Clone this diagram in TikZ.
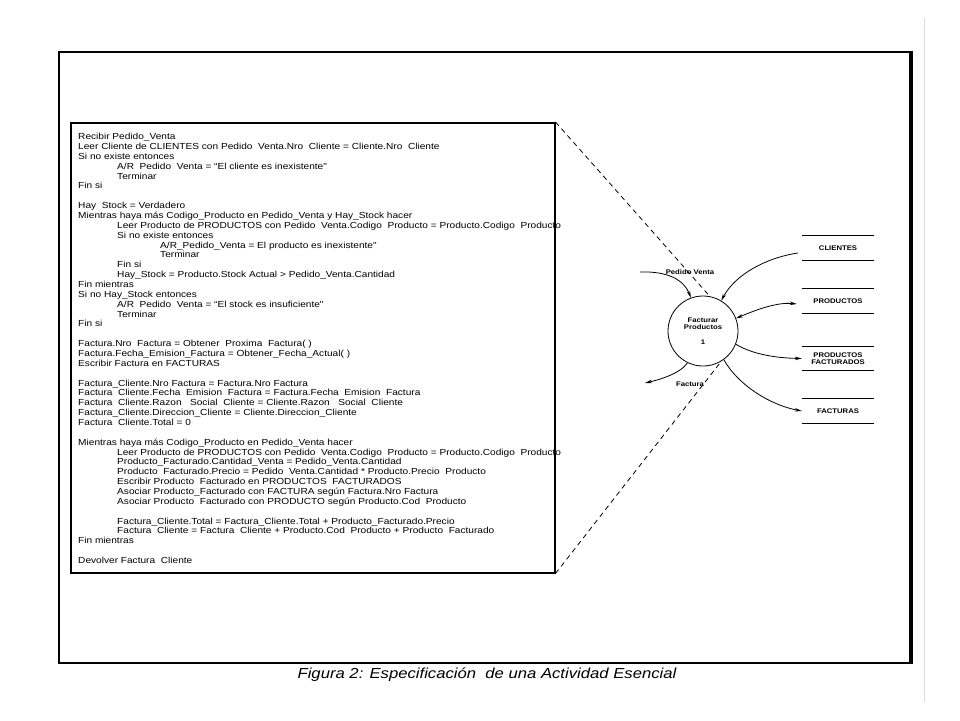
\documentclass[tikz,border=0pt]{standalone}
\usepackage{fontspec}
\setmainfont{Liberation Sans}
\newfontfamily\specfont[FakeStretch=1.15]{Liberation Sans}
\usetikzlibrary{arrows.meta}
\newcommand{\tabA}{\hspace*{39pt}}
\newcommand{\tabB}{\hspace*{82pt}}
\tikzset{
  >={Stealth[length=7pt,width=3.5pt]},
  dfdtext/.style={font=\specfont\bfseries\fontsize{6.7}{7.4}\selectfont,inner sep=0pt},
  flow/.style={line width=0.8pt},
  storeline/.style={line width=1.1pt},
  storebox/.style={dfdtext,minimum width=72pt,minimum height=24pt,align=center},
  zoomline/.style={line width=0.8pt,dash pattern=on 5pt off 4pt},
}
\begin{document}
\begin{tikzpicture}[x=1pt,y=-1pt]
\useasboundingbox (0,0) rectangle (960,720);
\fill[white] (0,0) rectangle (960,720);
% page frame
\draw[gray!30,line width=1pt] (924,18) -- (924,702);
\draw[line width=2pt] (59,52) rectangle (911,663);
\draw[line width=4pt] (911,51) -- (911,664);
% specification box
\node[draw,line width=1.5pt,anchor=north west,minimum width=484pt,minimum height=450pt] (specbox) at (70,122) {};
\node[font=\specfont\fontsize{8.8}{9.86}\selectfont,align=left,anchor=north west,inner sep=0pt] (spectext) at (78,133) {%
Recibir Pedido\_Venta\\
Leer Cliente de CLIENTES con Pedido~~Venta.Nro~~Cliente = Cliente.Nro~~Cliente\\
Si no existe entonces\\
\tabA A/R~~Pedido~~Venta = “El cliente es inexistente"\\
\tabA Terminar\\
Fin si\\[9.86pt]
Hay~~Stock = Verdadero\\
Mientras haya más Codigo\_Producto en Pedido\_Venta y Hay\_Stock hacer\\
\tabA Leer Producto de PRODUCTOS con Pedido~~Venta.Codigo~~Producto = Producto.Codigo~~Producto\\
\tabA Si no existe entonces\\
\tabB A/R\_Pedido\_Venta = El producto es inexistente"\\
\tabB Terminar\\
\tabA Fin si\\
\tabA Hay\_Stock = Producto.Stock Actual > Pedido\_Venta.Cantidad\\
Fin mientras\\
Si no Hay\_Stock entonces\\
\tabA A/R~~Pedido~~Venta = “El stock es insuficiente"\\
\tabA Terminar\\
Fin si\\[9.86pt]
Factura.Nro~~Factura = Obtener~~Proxima~~Factura( )\\
Factura.Fecha\_Emision\_Factura = Obtener\_Fecha\_Actual( )\\
Escribir Factura en FACTURAS\\[9.86pt]
Factura\_Cliente.Nro Factura = Factura.Nro Factura\\
Factura~~Cliente.Fecha~~Emision~~Factura = Factura.Fecha~~Emision~~Factura\\
Factura~~Cliente.Razon~~~Social~~Cliente = Cliente.Razon~~~Social~~Cliente\\
Factura\_Cliente.Direccion\_Cliente = Cliente.Direccion\_Cliente\\
Factura~~Cliente.Total = 0\\[9.86pt]
Mientras haya más Codigo\_Producto en Pedido\_Venta hacer\\
\tabA Leer Producto de PRODUCTOS con Pedido~~Venta.Codigo~~Producto = Producto.Codigo~~Producto\\
\tabA Producto\_Facturado.Cantidad\_Venta = Pedido\_Venta.Cantidad\\
\tabA Producto~~Facturado.Precio = Pedido~~Venta.Cantidad * Producto.Precio~~Producto\\
\tabA Escribir Producto~~Facturado en PRODUCTOS~~FACTURADOS\\
\tabA Asociar Producto\_Facturado con FACTURA según Factura.Nro Factura\\
\tabA Asociar Producto~~Facturado con PRODUCTO según Producto.Cod~~Producto\\[9.86pt]
\tabA Factura\_Cliente.Total = Factura\_Cliente.Total + Producto\_Facturado.Precio\\
\tabA Factura~~Cliente = Factura~~Cliente + Producto.Cod~~Producto + Producto~~Facturado\\
Fin mientras\\[9.86pt]
Devolver Factura~~Cliente};
% process and stores
\node[draw,circle,line width=0.8pt,minimum size=70pt,dfdtext,align=center] (proc) at (703,331) {Facturar\\Productos\\[7pt]1};
\node[storebox] (cli) at (838,248) {CLIENTES};
\node[storebox] (prod) at (838,301) {PRODUCTOS};
\node[storebox,minimum height=23pt] (pfac) at (838,358.5) {PRODUCTOS\\FACTURADOS};
\node[storebox] (fac) at (838,411) {FACTURAS};
\foreach \s in {cli,prod,pfac,fac} {
\draw[storeline] (\s.north west) -- (\s.north east);
\draw[storeline] (\s.south west) -- (\s.south east);
}
% flows
\coordinate (pvin) at (640,272);
\coordinate (facout) at (645,383);
\draw[flow,->] (pvin) .. controls (668,271) and (684,280) .. (proc.110);
\draw[flow,->] ([shift={(-4,5)}]cli.west) .. controls (765,258) and (735,275) .. (proc.59);
\draw[flow,<->] (proc.21) .. controls (758,309) and (778,302) .. ([shift={(-5,3)}]prod.west);
\draw[flow,->] (proc.-22) .. controls (752,354) and (775,358) .. (pfac.west);
\draw[flow,->] (proc.-54) .. controls (738,385) and (770,405) .. (fac.west);
\draw[flow,->] (proc.-116) .. controls (680,374) and (658,380) .. (facout);
\node[dfdtext] (pvlabel) at (690,272) {Pedido Venta};
\node[dfdtext] (faclabel) at (690,384) {Factura};
% zoom lines
\draw[zoomline] (specbox.north east) -- (proc.79);
\draw[zoomline] (specbox.south east) -- (proc.-59);
% caption
\node[font=\specfont\itshape\fontsize{14.5}{17}\selectfont] (caption) at (487,675) {Figura 2: Especificación~~de una Actividad Esencial};
\end{tikzpicture}
\end{document}
